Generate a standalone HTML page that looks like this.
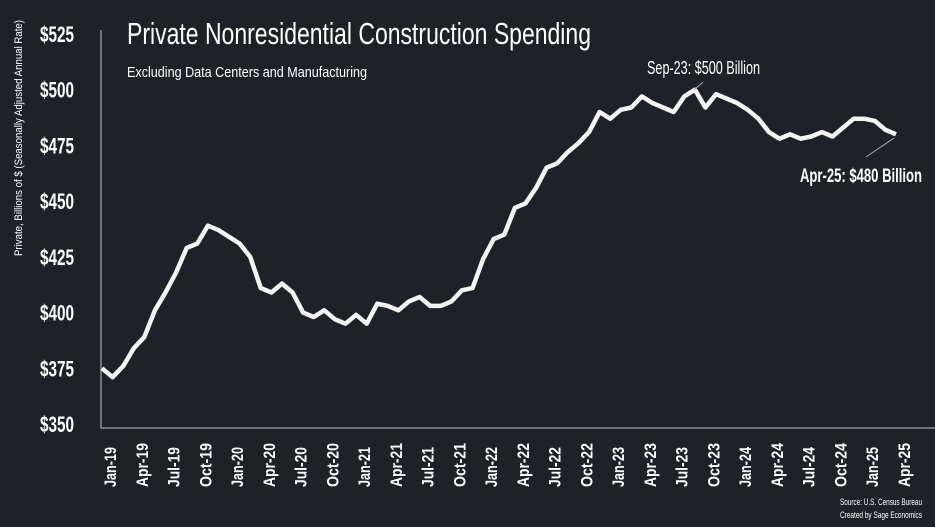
<!DOCTYPE html>
<html><head><meta charset="utf-8"><style>
body{margin:0;background:#1e2128;}
svg{display:block;font-family:"Liberation Sans Narrow","Liberation Sans",sans-serif;}
</style></head><body>
<svg id="chart" width="935" height="527" viewBox="0 0 935 527">
<rect width="935" height="527" fill="#1e2128"/>
<text x="127" y="44" fill="#fff" font-size="31" textLength="464" lengthAdjust="spacingAndGlyphs">Private Nonresidential Construction Spending</text>
<text x="127" y="77" fill="#fff" font-size="15" textLength="240" lengthAdjust="spacingAndGlyphs">Excluding Data Centers and Manufacturing</text>
<text transform="translate(22,138) rotate(-90)" text-anchor="middle" fill="#fff" font-size="11" textLength="236" lengthAdjust="spacingAndGlyphs">Private, Billions of $ (Seasonally Adjusted Annual Rate)</text>
<g id="yticks"></g>
<g id="xticks"></g>
<path d="M101,30 L101,428 L935,428" fill="none" stroke="#8a8d92" stroke-width="1.5"/>
<g id="series"></g>
<line x1="703" y1="82" x2="694" y2="90" stroke="#aaa" stroke-width="1"/>
<text x="647" y="74" fill="#fff" font-size="18" textLength="113" lengthAdjust="spacingAndGlyphs">Sep-23: $500 Billion</text>
<line x1="866" y1="157" x2="894" y2="138" stroke="#aaa" stroke-width="1"/>
<text x="800" y="182" fill="#fff" font-size="19" font-weight="bold" textLength="122" lengthAdjust="spacingAndGlyphs">Apr-25: $480 Billion</text>
<text x="922" y="505" text-anchor="end" fill="#fff" font-size="9" textLength="82" lengthAdjust="spacingAndGlyphs">Source: U.S. Census Bureau</text>
<text x="922" y="518" text-anchor="end" fill="#fff" font-size="9" textLength="82" lengthAdjust="spacingAndGlyphs">Created by Sage Economics</text>
</svg>
<script>
const values=[375,371,376,384,389,401,409,418,429,431,439,437,434,431,425,411,409,413,409,400,398,401,397,395,399,395,404,403,401,405,407,403,403,405,410,411,424,433,435,447,449,456,465,467,472,476,481,490,487,491,492,497,494,492,490,497,500,492,498,496,494,491,487,481,478,480,478,479,481,479,483,487,487,486,482,480];
const monthNames=["Jan","Feb","Mar","Apr","May","Jun","Jul","Aug","Sep","Oct","Nov","Dec"];
const yTicks=[350,375,400,425,450,475,500,525];
const startYear=19;
const NS="http://www.w3.org/2000/svg";
function xs(i){return 102+i*(896-102)/(values.length-1);}
function ys(v){return 424-(v-350)*(424-34)/175;}
const yg=document.getElementById('yticks');
yTicks.forEach(t=>{
 const el=document.createElementNS(NS,'text');
 
 
 el.setAttribute('x',40);el.setAttribute('y',ys(t)+8);
 el.setAttribute('fill','#fff');
 el.setAttribute('font-size','22');el.setAttribute('font-weight','bold');
 el.setAttribute('textLength','34');el.setAttribute('lengthAdjust','spacingAndGlyphs');
 el.textContent='$'+t;yg.appendChild(el);
});
const xg=document.getElementById('xticks');
for(let i=0;i<values.length;i+=3){
 const m=i%12,y=startYear+Math.floor(i/12);
 const el=document.createElementNS(NS,'text');
 
 
 const cx=xs(i)+8;
 el.setAttribute('transform','translate('+(cx+6)+',487) rotate(-90)');
 el.setAttribute('fill','#fff');el.setAttribute('font-size','17');el.setAttribute('font-weight','bold');
 el.setAttribute('textLength',(monthNames[m]==='Jul'||monthNames[m]==='Jan')?'40':'44');el.setAttribute('lengthAdjust','spacingAndGlyphs');
 el.textContent=monthNames[m]+'-'+y;xg.appendChild(el);
}
const p=document.createElementNS(NS,'path');


p.setAttribute('d',values.map((v,i)=>(i?'L':'M')+xs(i).toFixed(1)+','+ys(v).toFixed(1)).join(' '));
p.setAttribute('fill','none');p.setAttribute('stroke','#f4f4f4');p.setAttribute('stroke-width','4.5');p.setAttribute('stroke-linejoin','round');
document.getElementById('series').appendChild(p);
</script>
</body></html>
